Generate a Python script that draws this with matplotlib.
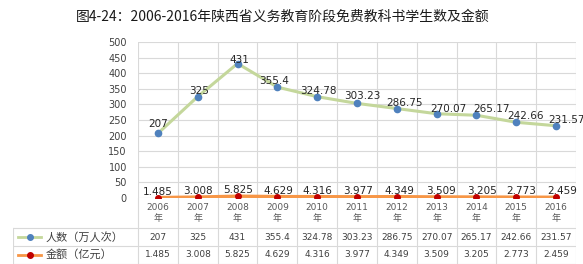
import matplotlib
matplotlib.use("Agg")
import matplotlib.pyplot as plt

plt.rcParams['font.family'] = ['DejaVu Sans', 'Noto Sans CJK SC']

title = "图4-24：2006-2016年陕西省义务教育阶段免费教科书学生数及金额"
years = ["2006", "2007", "2008", "2009", "2010", "2011", "2012", "2013", "2014", "2015", "2016"]
people = [207, 325, 431, 355.4, 324.78, 303.23, 286.75, 270.07, 265.17, 242.66, 231.57]
people_lbl = ["207", "325", "431", "355.4", "324.78", "303.23", "286.75", "270.07", "265.17", "242.66", "231.57"]
amount = [1.485, 3.008, 5.825, 4.629, 4.316, 3.977, 4.349, 3.509, 3.205, 2.773, 2.459]
amount_lbl = ["1.485", "3.008", "5.825", "4.629", "4.316", "3.977", "4.349", "3.509", "3.205", "2.773", "2.459"]
series_names = ["人数（万人次）", "金额（亿元）"]
yticks = [0, 50, 100, 150, 200, 250, 300, 350, 400, 450, 500]

# label nudges (px) as placed in the original
people_dx = [0, 1, 2, -3, 1, 5, 8, 12, 15, 9, 10]
people_dy = [9, 6, 4, 6, 6, 7, 6, 5, 6, 6, 6]
amount_dx = [0, 0, 1, 1, 0, 1, 3, 4, 6, 5, 6]

W, H = 583, 264
fig = plt.figure(figsize=(W / 100, H / 100), dpi=100)
fig.patch.set_facecolor('white')

def fx(px):
    return px / W

def fy(py):
    return 1 - py / H

PT = 72 / 100  # points per pixel

L, R, T, B = 138, 576, 42, 198
ax = fig.add_axes([fx(L), fy(B), fx(R) - fx(L), fy(T) - fy(B)])
n = len(years)
x = list(range(n))
ax.set_xlim(-0.5, n - 0.5)
ax.set_ylim(0, 500)
ax.set_yticks(yticks)
ax.set_yticklabels([str(v) for v in yticks], fontsize=7, color='#404040')
ax.tick_params(axis='y', length=0, pad=8)
ax.set_xticks([])
for s in ax.spines.values():
    s.set_visible(False)
grid_c = '#d9d9d9'
for v in yticks:
    ax.axhline(v, color=grid_c, lw=0.8, zorder=0)
for k in range(n + 1):
    ax.axvline(k - 0.5, color=grid_c, lw=0.8, zorder=0)

green = '#c4d79b'
blue = '#4f81bd'
orange = '#f79646'
red = '#c00000'
ax.plot(x, people, color=green, lw=2.2, zorder=2, solid_capstyle='round')
ax.plot(x, people, 'o', color=blue, ms=4.5, zorder=3)
ax.plot(x, amount, color=orange, lw=2.4, zorder=2)
ax.plot(x, amount, 'o', color=red, ms=4, zorder=3)

for i in range(n):
    ax.annotate(people_lbl[i], (x[i], people[i]),
                xytext=(people_dx[i] * PT, people_dy[i] * PT), textcoords='offset points',
                ha='center', va='center', fontsize=7.5, color='#262626', clip_on=False, zorder=4)
    ax.annotate(amount_lbl[i], (x[i], amount[i]),
                xytext=(amount_dx[i] * PT, 6 * PT), textcoords='offset points',
                ha='center', va='center', fontsize=7.5, color='#262626', clip_on=False, zorder=4)

fig.text(fx(283), fy(17), title, ha='center', va='center', fontsize=10, color='#1a1a1a',
         family=['Noto Sans CJK SC', 'DejaVu Sans'])

# data table
TL = 13
unit = (R - L) / n
tax = fig.add_axes([fx(TL), 0, fx(R) - fx(TL), fy(B)])
x0 = -0.5 - (L - TL) / unit
tax.set_xlim(x0, n - 0.5)
tax.set_ylim(H, B)
tax.axis('off')
for k in range(n + 1):
    tax.plot([k - 0.5, k - 0.5], [B, H], color=grid_c, lw=0.8)
for yy in [228, 246, 263.5]:
    tax.plot([x0, n - 0.5], [yy, yy], color=grid_c, lw=0.8)
tax.plot([x0 + 0.01, x0 + 0.01], [228, H], color=grid_c, lw=0.8)

for i in range(n):
    tax.text(i, 207, years[i], ha='center', va='center', fontsize=6.5, color='#595959')
    tax.text(i, 219, "年", ha='center', va='center', fontsize=6.5, color='#595959',
             family=['Noto Sans CJK SC', 'DejaVu Sans'])
    tax.text(i, 237, people_lbl[i], ha='center', va='center', fontsize=6.5, color='#404040')
    tax.text(i, 254.5, amount_lbl[i], ha='center', va='center', fontsize=6.5, color='#404040')

def px2u(px):
    return x0 + (px - TL) / unit

for yy, lc, mc, name in [(237, green, blue, series_names[0]), (254.5, orange, red, series_names[1])]:
    tax.plot([px2u(18), px2u(41)], [yy, yy], color=lc, lw=2)
    tax.plot([px2u(29.5)], [yy], 'o', color=mc, ms=4)
    tax.text(px2u(46), yy, name, ha='left', va='center', fontsize=8, color='#404040',
             family=['Noto Sans CJK SC', 'DejaVu Sans'])

fig.savefig('out.png', dpi=100, facecolor='white')
